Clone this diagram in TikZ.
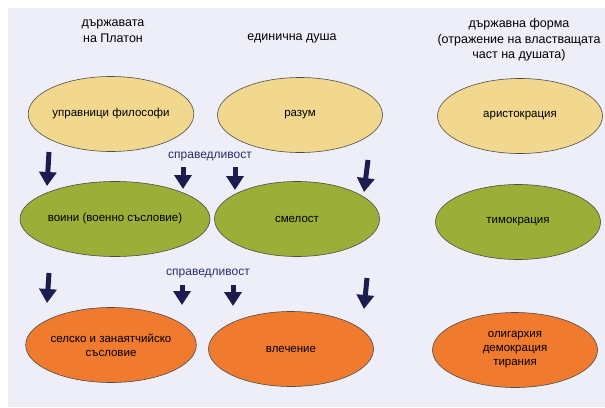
\documentclass[tikz,border=0pt]{standalone}
\usepackage{fontspec}
\setmainfont{Liberation Sans}
\usetikzlibrary{shapes.geometric, positioning, arrows.meta}
\definecolor{paper}{HTML}{EDEEF7}
\definecolor{reason}{HTML}{F1D88E}
\definecolor{spirit}{HTML}{9BAE38}
\definecolor{desire}{HTML}{F07A2E}
\definecolor{navy}{HTML}{1C1D4E}
\definecolor{label}{HTML}{2A2D6A}
\tikzset{
  soul/.style={ellipse, draw=black!70, line width=.6pt, minimum width=165pt, minimum height=75pt,
    align=center, font=\fontsize{11.5}{14}\selectfont, inner sep=0pt},
  top/.style={soul, fill=reason},
  mid/.style={soul, fill=spirit},
  low/.style={soul, fill=desire},
  head/.style={align=center, font=\fontsize{12.5}{15.5}\selectfont},
  push/.style={-{Triangle[width=17pt,length=14pt]}, line width=5pt, draw=navy},
  just/.style={font=\fontsize{12}{14}\selectfont, text=label}
}
\begin{document}
\begin{tikzpicture}[x=1pt,y=-1pt]
\useasboundingbox (0,0) rectangle (605,407);
\fill[paper] (8,8) rectangle (605,407);
% headers
\node[head] (hstate) at (113,31) {държавата\\на Платон};
\node[head] (hsoul) at (292,38) {единична душа};
\node[head] (hform) at (519,40) {държавна форма\\(отражение на властващата\\част на душата)};
% ellipses
\node[top] (rulers) at (111,114) {управници философи};
\node[top] (reason) at (300,115) {разум};
\node[top] (aristo) at (520,116) {аристокрация};
\node[mid] (guards) at (115,219) {воини (военно съсловие)};
\node[mid] (courage) at (297,219) {смелост};
\node[mid] (timo) at (518,222) {тимокрация};
\node[low] (farmers) at (111,345) {селско и занаятчийско\\съсловие};
\node[low] (appetite) at (291,349) {влечение};
\node[low] (decline) at (515,350) {олигархия\\демокрация\\тирания};
% arrows
\draw[push] (49,152) -- (47,186);
\foreach \x/\a/\b in {183/167/189, 235/167/190}
  \draw[push] (\x,\a) -- (\x,\b);
\draw[push] (368,160) -- (364,192);
\draw[push] (49,273) -- (47,303);
\foreach \x/\a/\b in {182/285/305, 233/285/306}
  \draw[push] (\x,\a) -- (\x,\b);
\draw[push] (367,278) -- (364,309);
\node[just] (just1) at (210,157) {справедливост};
\node[just] (just2) at (208,274) {справедливост};
\end{tikzpicture}
\end{document}
